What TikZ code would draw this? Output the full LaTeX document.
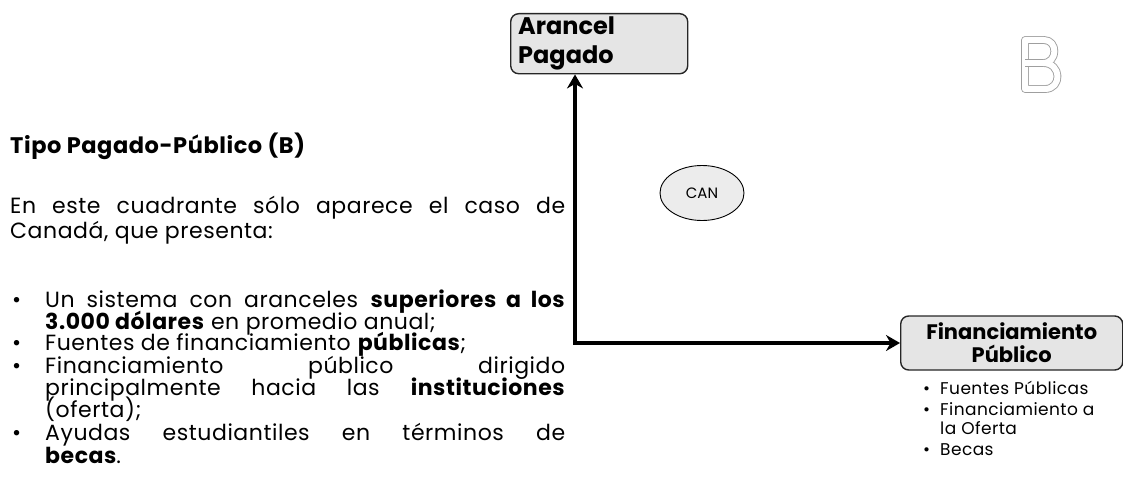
\documentclass[tikz,border=0pt]{standalone}
\usepackage{fontspec}
\setmainfont{Poppins}
\newfontfamily\bodyf{Poppins}[LetterSpace=2.5]
\usetikzlibrary{arrows.meta,shapes.geometric}
\begin{document}
\begin{tikzpicture}[x=1pt,y=-1pt,
  txt/.style={anchor=base west, inner sep=0pt, font=\bodyf\fontsize{22}{24}\selectfont},
  ttl/.style={anchor=base west, inner sep=0pt, font=\bodyf\bfseries\fontsize{22.5}{26}\selectfont},
  sml/.style={anchor=base west, inner sep=0pt, font=\bodyf\fontsize{17}{19}\selectfont},
  dotbox/.style={draw=black!85, line width=1.4pt, rounded corners=8pt, fill=gray!20},
  axis/.style={line width=3.5pt, line join=miter, {Stealth[length=14pt,width=16pt]}-{Stealth[length=14pt,width=16pt]}},
  bletter/.style={draw=gray!75, double=white, double distance=6pt, line width=0.9pt, line join=round}
]
\useasboundingbox (0,0) rectangle (1123,484);

% boxes
\node[dotbox, minimum width=177pt, minimum height=57pt, anchor=north west, align=left, text width=162pt, inner xsep=7.5pt, font=\bfseries\fontsize{24}{29}\selectfont] (arancel) at (510,13) {Arancel\\Pagado};
\node[dotbox, minimum width=222pt, minimum height=54pt, anchor=west, align=center, inner sep=1pt, font=\bfseries\fontsize{21}{23}\selectfont] (finan) at (900,343) {Financiamiento\\Público};
\node[draw, ellipse, fill=gray!15, line width=0.9pt, minimum width=84pt, minimum height=55pt, font=\fontsize{15}{18}\selectfont] (can) at (702,193) {CAN};

% axes
\coordinate (corner) at (575,343);
\draw[axis] (corner |- arancel.south) -- (corner) -- (finan.west);

% letter B
\draw[bletter] (1025,40) -- (1044,40) .. controls (1058,40) and (1058,63) .. (1043,63) .. controls (1062,63) and (1062,89) .. (1045,89) -- (1025,89) -- cycle;
\draw[bletter] (1025,63) -- (1043,63);

% right bullets
\node[sml] (rb1) at (923,394) {•};
\node[sml] (rt1) at (940,394) {Fuentes Públicas};
\node[sml] (rb2) at (923,415) {•};
\node[sml] (rt2) at (940,415) {Financiamiento a};
\node[sml] (rt3) at (940,434) {la Oferta};
\node[sml] (rb4) at (923,455) {•};
\node[sml] (rt4) at (940,455) {Becas};

% left text
\node[ttl] (title) at (10,153) {Tipo Pagado-Público (B)};
\node[txt] (p1) at (10,213) {\makebox[555pt][s]{En este cuadrante sólo aparece el caso de}};
\node[txt] (p2) at (10,238) {Canadá, que presenta:};

\node[txt] (b1) at (12,307) {•};
\node[txt] (l1) at (45,307) {\makebox[520pt][s]{Un sistema con aranceles \textbf{superiores a los}}};
\node[txt] (l2) at (45,329) {\textbf{3.000 dólares} en promedio anual;};
\node[txt] (b2) at (12,350) {•};
\node[txt] (l3) at (45,350) {Fuentes de financiamiento \textbf{públicas};};
\node[txt] (b3) at (12,373) {•};
\node[txt] (l4) at (45,373) {\makebox[520pt][s]{Financiamiento público dirigido}};
\node[txt] (l5) at (45,395) {\makebox[520pt][s]{principalmente hacia las \textbf{instituciones}}};
\node[txt] (l6) at (45,417) {(oferta);};
\node[txt] (b4) at (12,440) {•};
\node[txt] (l7) at (45,440) {\makebox[520pt][s]{Ayudas estudiantiles en términos de}};
\node[txt] (l8) at (45,463) {\textbf{becas}.};
\end{tikzpicture}
\end{document}
